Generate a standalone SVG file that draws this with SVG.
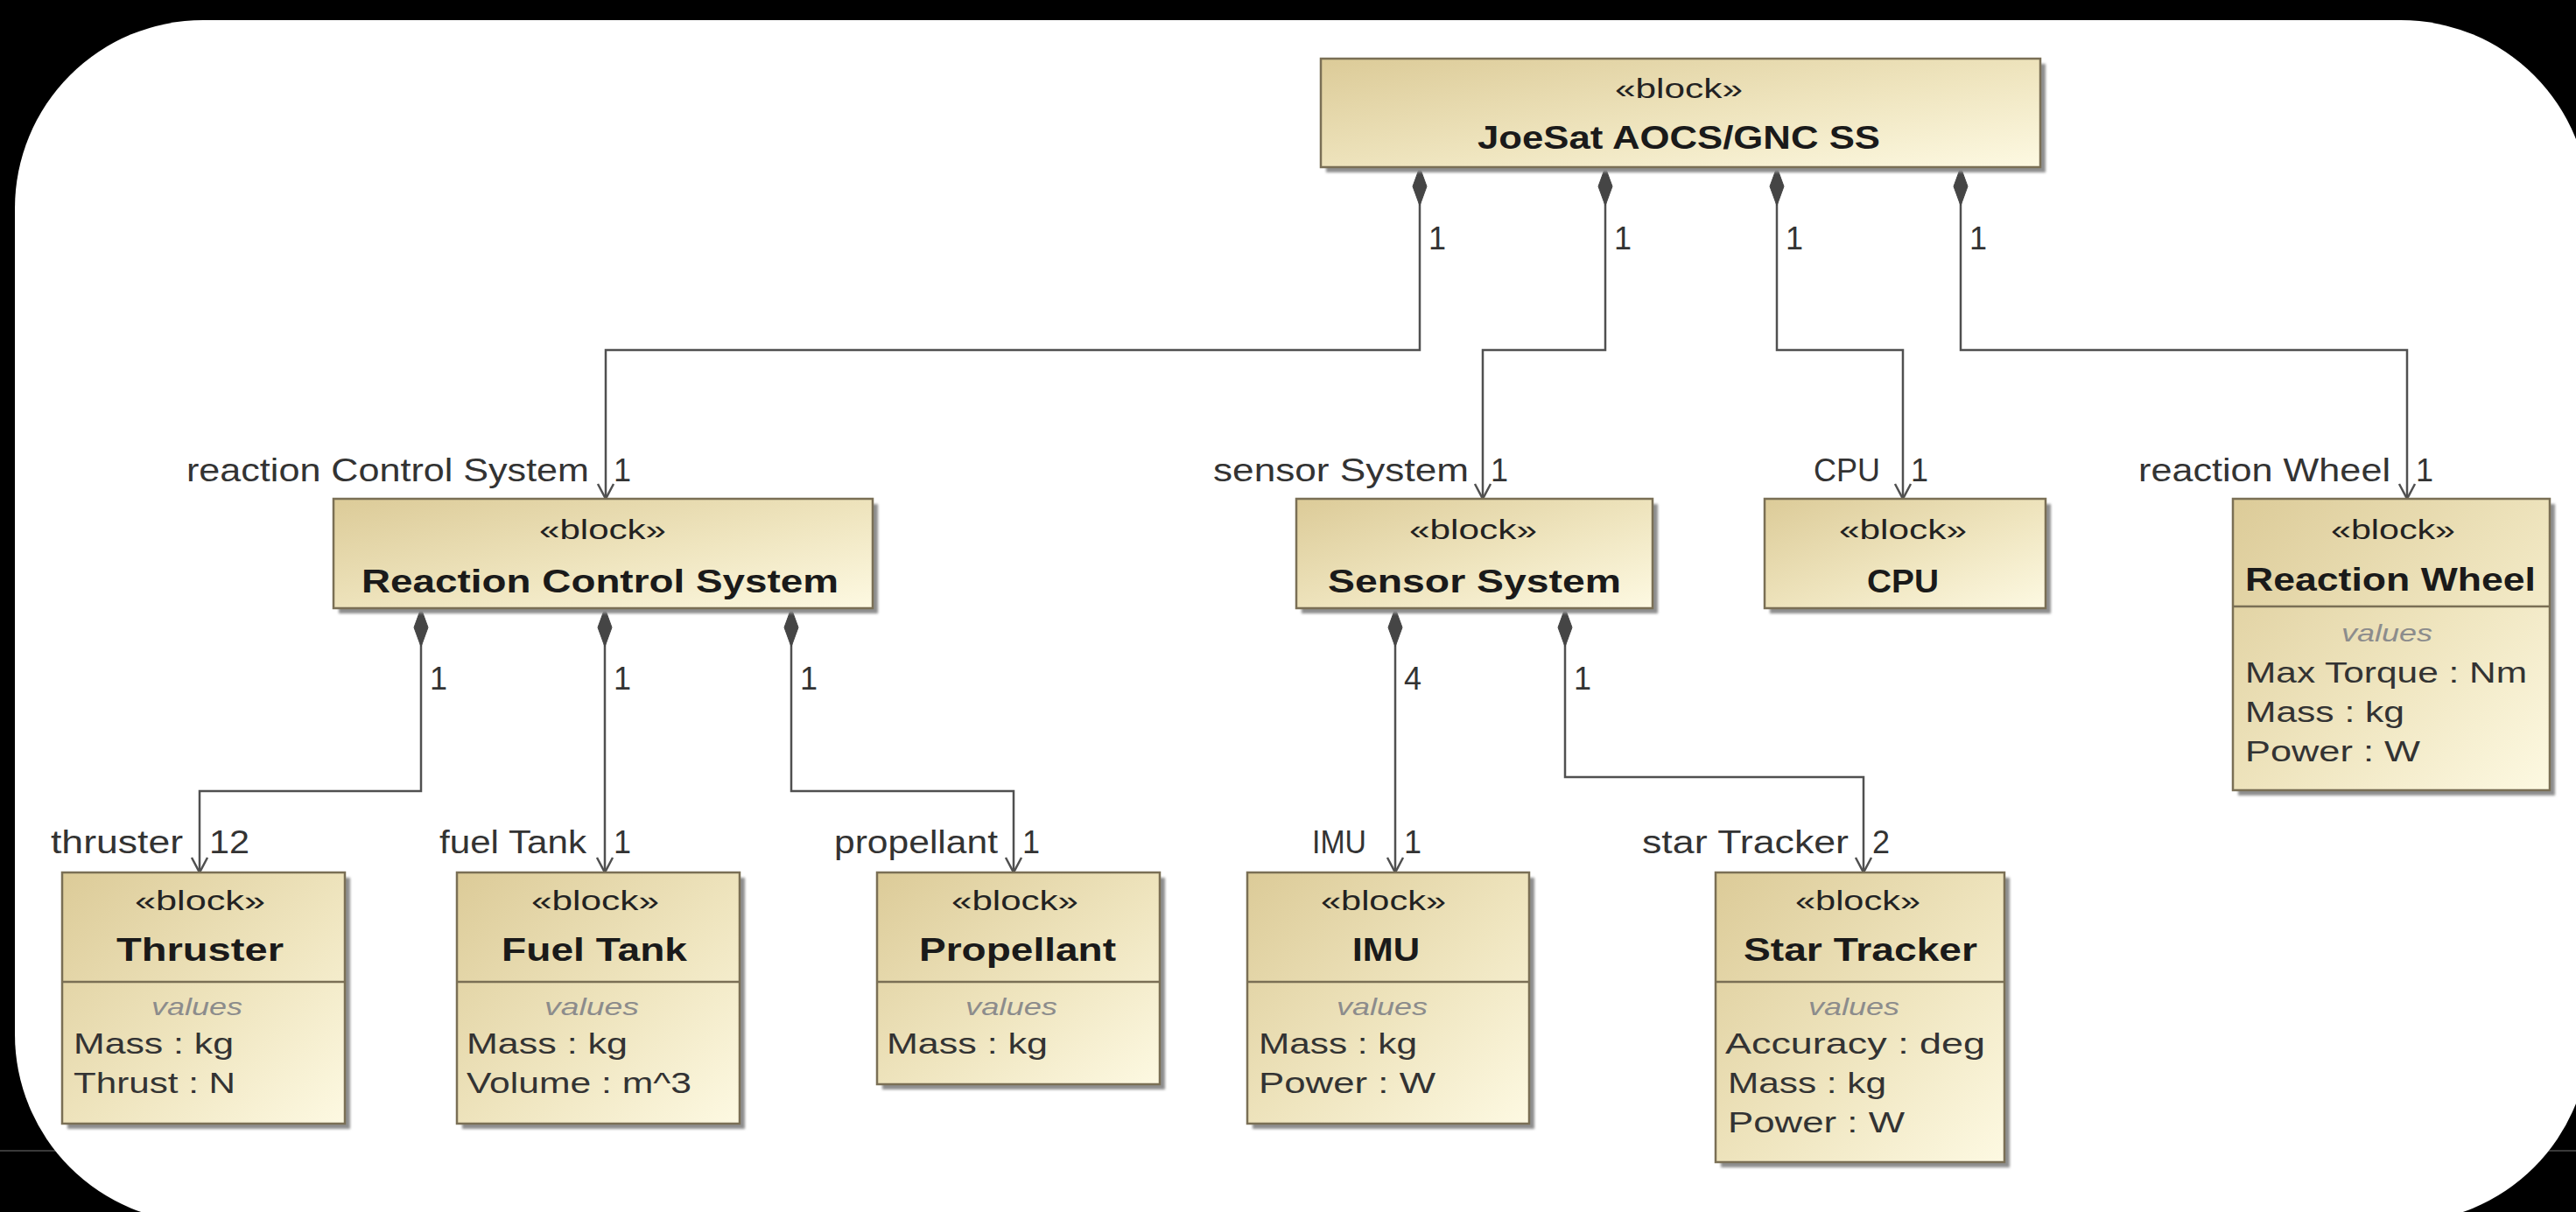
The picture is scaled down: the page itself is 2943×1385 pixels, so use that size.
<svg xmlns="http://www.w3.org/2000/svg" width="2943" height="1385" viewBox="0 0 2943 1385">
<style>
text{font-family:"Liberation Sans",Arial,sans-serif;fill:#222}
.st{font-size:31px}
.nm{font-size:37px;font-weight:bold;fill:#1a1a1a}
.vl{font-size:28px;font-style:italic;fill:#8c8c8c}
.at{font-size:34px;fill:#333}
.lb{font-size:36px;fill:#333}
.box{fill:url(#g);stroke:#7a6f55;stroke-width:2.5}
.sh{fill:#8e8e8e;filter:url(#blur)}
.dv{stroke:#7a6f55;stroke-width:2.5}
.cn{fill:none;stroke:#505050;stroke-width:2.5;marker-start:url(#dia);marker-end:url(#arr)}
</style>
<defs>
<linearGradient id="g" x1="0" y1="0" x2="1" y2="1">
<stop offset="0" stop-color="#dccb98"/>
<stop offset="0.55" stop-color="#efe5bf"/>
<stop offset="1" stop-color="#fdf9e2"/>
</linearGradient>
<filter id="blur" x="-5%" y="-5%" width="110%" height="110%"><feGaussianBlur stdDeviation="1.5"/></filter>
<marker id="dia" markerUnits="userSpaceOnUse" orient="auto" refX="0" refY="0" markerWidth="50" markerHeight="20" overflow="visible">
<path d="M0,0 L22,-8 L44,0 L22,8 Z" fill="#454545" stroke="#454545" stroke-width="1"/>
</marker>
<marker id="arr" markerUnits="userSpaceOnUse" orient="auto" refX="0" refY="0" markerWidth="20" markerHeight="20" overflow="visible">
<path d="M-17,-9 L0,0 L-17,9" fill="none" stroke="#505050" stroke-width="2.5"/>
</marker>
</defs>
<rect x="0" y="0" width="2943" height="1385" fill="#000"/>
<line x1="0" y1="1315" x2="2943" y2="1315" stroke="#3a3a3a" stroke-width="2"/>
<rect x="17" y="23" width="2941" height="1374" rx="215" ry="215" fill="#fff"/>

<g id="connectors">
<path class="cn" d="M1622,191 V400 H692 V570"/>
<path class="cn" d="M1834,191 V400 H1694 V570"/>
<path class="cn" d="M2030,191 V400 H2174 V570"/>
<path class="cn" d="M2240,191 V400 H2750 V570"/>
<path class="cn" d="M481,695 V904 H228 V997"/>
<path class="cn" d="M691,695 V997"/>
<path class="cn" d="M904,695 V904 H1158 V997"/>
<path class="cn" d="M1594,695 V997"/>
<path class="cn" d="M1788,695 V888 H2129 V997"/>
<g class="lb">
<text class="lb" x="1632" y="285">1</text>
<text class="lb" x="1844" y="285">1</text>
<text class="lb" x="2040" y="285">1</text>
<text class="lb" x="2250" y="285">1</text>
<text class="lb" x="213" y="550" textLength="460" lengthAdjust="spacingAndGlyphs">reaction Control System</text>
<text class="lb" x="701" y="550">1</text>
<text class="lb" x="1386" y="550" textLength="292" lengthAdjust="spacingAndGlyphs">sensor System</text>
<text class="lb" x="1703" y="550">1</text>
<text class="lb" x="2072" y="550" textLength="76" lengthAdjust="spacingAndGlyphs">CPU</text>
<text class="lb" x="2183" y="550">1</text>
<text class="lb" x="2443" y="550" textLength="288" lengthAdjust="spacingAndGlyphs">reaction Wheel</text>
<text class="lb" x="2760" y="550">1</text>
<text class="lb" x="491" y="788">1</text>
<text class="lb" x="701" y="788">1</text>
<text class="lb" x="914" y="788">1</text>
<text class="lb" x="1604" y="788">4</text>
<text class="lb" x="1798" y="788">1</text>
<text class="lb" x="58" y="975" textLength="151" lengthAdjust="spacingAndGlyphs">thruster</text>
<text class="lb" x="239" y="975" textLength="46" lengthAdjust="spacingAndGlyphs">12</text>
<text class="lb" x="502" y="975" textLength="168" lengthAdjust="spacingAndGlyphs">fuel Tank</text>
<text class="lb" x="701" y="975">1</text>
<text class="lb" x="953" y="975" textLength="187" lengthAdjust="spacingAndGlyphs">propellant</text>
<text class="lb" x="1168" y="975">1</text>
<text class="lb" x="1499" y="975" textLength="62" lengthAdjust="spacingAndGlyphs">IMU</text>
<text class="lb" x="1604" y="975">1</text>
<text class="lb" x="1876" y="975" textLength="236" lengthAdjust="spacingAndGlyphs">star Tracker</text>
<text class="lb" x="2139" y="975">2</text>
</g>
</g>

<g id="joesat">
<rect class="sh" x="1515" y="73" width="822" height="124"/>
<rect class="box" x="1509" y="67" width="822" height="124"/>
<text class="st" x="1845" y="112" textLength="146" lengthAdjust="spacingAndGlyphs">«block»</text>
<text class="nm" x="1688" y="170" textLength="460" lengthAdjust="spacingAndGlyphs">JoeSat AOCS/GNC SS</text>
</g>

<g id="rcs">
<rect class="sh" x="387" y="576" width="616" height="125"/>
<rect class="box" x="381" y="570" width="616" height="125"/>
<text class="st" x="616" y="616" textLength="145" lengthAdjust="spacingAndGlyphs">«block»</text>
<text class="nm" x="413" y="677" textLength="545" lengthAdjust="spacingAndGlyphs">Reaction Control System</text>
</g>

<g id="sensor">
<rect class="sh" x="1487" y="576" width="407" height="125"/>
<rect class="box" x="1481" y="570" width="407" height="125"/>
<text class="st" x="1610" y="616" textLength="146" lengthAdjust="spacingAndGlyphs">«block»</text>
<text class="nm" x="1517" y="677" textLength="335" lengthAdjust="spacingAndGlyphs">Sensor System</text>
</g>

<g id="cpu">
<rect class="sh" x="2022" y="576" width="321" height="125"/>
<rect class="box" x="2016" y="570" width="321" height="125"/>
<text class="st" x="2101" y="616" textLength="146" lengthAdjust="spacingAndGlyphs">«block»</text>
<text class="nm" x="2133" y="677" textLength="82" lengthAdjust="spacingAndGlyphs">CPU</text>
</g>

<g id="reactionwheel">
<rect class="sh" x="2557" y="576" width="362" height="333"/>
<rect class="box" x="2551" y="570" width="362" height="333"/>
<line class="dv" x1="2551" y1="693" x2="2913" y2="693"/>
<text class="st" x="2663" y="616" textLength="142" lengthAdjust="spacingAndGlyphs">«block»</text>
<text class="nm" x="2565" y="675" textLength="332" lengthAdjust="spacingAndGlyphs">Reaction Wheel</text>
<text class="vl" x="2675" y="733" textLength="104" lengthAdjust="spacingAndGlyphs">values</text>
<text class="at" x="2565" y="780" textLength="322" lengthAdjust="spacingAndGlyphs">Max Torque : Nm</text>
<text class="at" x="2565" y="825" textLength="182" lengthAdjust="spacingAndGlyphs">Mass : kg</text>
<text class="at" x="2565" y="870" textLength="200" lengthAdjust="spacingAndGlyphs">Power : W</text>
</g>

<g id="thruster">
<rect class="sh" x="77" y="1003" width="323" height="287"/>
<rect class="box" x="71" y="997" width="323" height="287"/>
<line class="dv" x1="71" y1="1122" x2="394" y2="1122"/>
<text class="st" x="154" y="1040" textLength="149" lengthAdjust="spacingAndGlyphs">«block»</text>
<text class="nm" x="133" y="1098" textLength="191" lengthAdjust="spacingAndGlyphs">Thruster</text>
<text class="vl" x="173" y="1160" textLength="104" lengthAdjust="spacingAndGlyphs">values</text>
<text class="at" x="84" y="1204" textLength="183" lengthAdjust="spacingAndGlyphs">Mass : kg</text>
<text class="at" x="84" y="1249" textLength="185" lengthAdjust="spacingAndGlyphs">Thrust : N</text>
</g>

<g id="fueltank">
<rect class="sh" x="528" y="1003" width="323" height="287"/>
<rect class="box" x="522" y="997" width="323" height="287"/>
<line class="dv" x1="522" y1="1122" x2="845" y2="1122"/>
<text class="st" x="607" y="1040" textLength="146" lengthAdjust="spacingAndGlyphs">«block»</text>
<text class="nm" x="573" y="1098" textLength="212" lengthAdjust="spacingAndGlyphs">Fuel Tank</text>
<text class="vl" x="622" y="1160" textLength="108" lengthAdjust="spacingAndGlyphs">values</text>
<text class="at" x="533" y="1204" textLength="184" lengthAdjust="spacingAndGlyphs">Mass : kg</text>
<text class="at" x="533" y="1249" textLength="257" lengthAdjust="spacingAndGlyphs">Volume : m^3</text>
</g>

<g id="propellant">
<rect class="sh" x="1008" y="1003" width="323" height="242"/>
<rect class="box" x="1002" y="997" width="323" height="242"/>
<line class="dv" x1="1002" y1="1122" x2="1325" y2="1122"/>
<text class="st" x="1087" y="1040" textLength="145" lengthAdjust="spacingAndGlyphs">«block»</text>
<text class="nm" x="1050" y="1098" textLength="225" lengthAdjust="spacingAndGlyphs">Propellant</text>
<text class="vl" x="1103" y="1160" textLength="105" lengthAdjust="spacingAndGlyphs">values</text>
<text class="at" x="1013" y="1204" textLength="184" lengthAdjust="spacingAndGlyphs">Mass : kg</text>
</g>

<g id="imu">
<rect class="sh" x="1431" y="1003" width="322" height="287"/>
<rect class="box" x="1425" y="997" width="322" height="287"/>
<line class="dv" x1="1425" y1="1122" x2="1747" y2="1122"/>
<text class="st" x="1509" y="1040" textLength="143" lengthAdjust="spacingAndGlyphs">«block»</text>
<text class="nm" x="1545" y="1098" textLength="77" lengthAdjust="spacingAndGlyphs">IMU</text>
<text class="vl" x="1527" y="1160" textLength="104" lengthAdjust="spacingAndGlyphs">values</text>
<text class="at" x="1438" y="1204" textLength="181" lengthAdjust="spacingAndGlyphs">Mass : kg</text>
<text class="at" x="1438" y="1249" textLength="202" lengthAdjust="spacingAndGlyphs">Power : W</text>
</g>

<g id="startracker">
<rect class="sh" x="1966" y="1003" width="330" height="331"/>
<rect class="box" x="1960" y="997" width="330" height="331"/>
<line class="dv" x1="1960" y1="1122" x2="2290" y2="1122"/>
<text class="st" x="2051" y="1040" textLength="143" lengthAdjust="spacingAndGlyphs">«block»</text>
<text class="nm" x="1992" y="1098" textLength="267" lengthAdjust="spacingAndGlyphs">Star Tracker</text>
<text class="vl" x="2066" y="1160" textLength="104" lengthAdjust="spacingAndGlyphs">values</text>
<text class="at" x="1971" y="1204" textLength="297" lengthAdjust="spacingAndGlyphs">Accuracy : deg</text>
<text class="at" x="1974" y="1249" textLength="181" lengthAdjust="spacingAndGlyphs">Mass : kg</text>
<text class="at" x="1974" y="1294" textLength="202" lengthAdjust="spacingAndGlyphs">Power : W</text>
</g>
</svg>
